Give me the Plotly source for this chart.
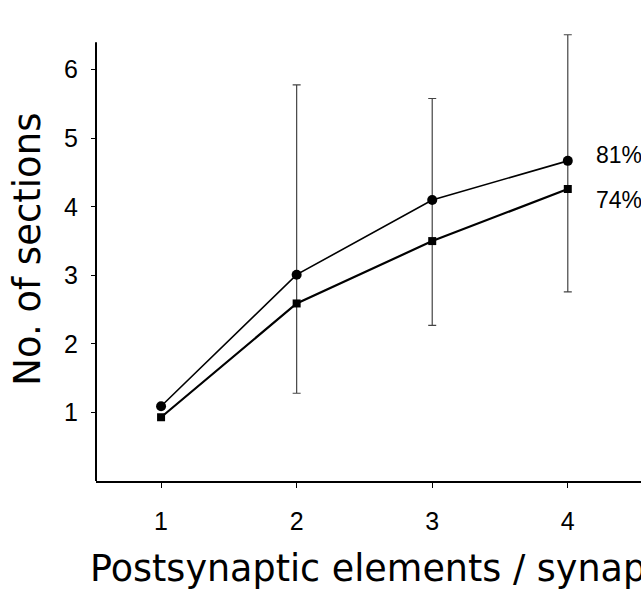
import plotly.graph_objects as go

x_vals = [1, 2, 3, 4]
circle_vals = [1.09, 3.01, 4.10, 4.67]
square_vals = [0.93, 2.59, 3.50, 4.26]
err_top = [None, 5.78, 5.58, 6.51]
err_bottom = [None, 1.28, 2.27, 2.76]
labels = ["81%", "74%"]
x_ticks = [1, 2, 3, 4]
y_ticks = [1, 2, 3, 4, 5, 6]
x_title = "Postsynaptic elements / synapse"
y_title = "No. of sections"
y_axis_top = 6.4

err_plus = [0 if t is None else t - c for t, c in zip(err_top, circle_vals)]
err_minus = [0 if b is None else c - b for b, c in zip(err_bottom, circle_vals)]

fig = go.Figure()

# error bar range (drawn first, behind lines)
fig.add_trace(go.Scatter(
    x=x_vals[1:], y=circle_vals[1:], mode="markers",
    marker=dict(size=1, color="rgba(0,0,0,0)"),
    error_y=dict(type="data", symmetric=False,
                 array=err_plus[1:], arrayminus=err_minus[1:],
                 color="#444444", thickness=1.2, width=4),
    showlegend=False, hoverinfo="skip"))

fig.add_trace(go.Scatter(
    x=x_vals, y=circle_vals, mode="lines+markers",
    line=dict(color="black", width=1.6),
    marker=dict(symbol="circle", size=10, color="black"),
    showlegend=False))

fig.add_trace(go.Scatter(
    x=x_vals, y=square_vals, mode="lines+markers",
    line=dict(color="black", width=2.2),
    marker=dict(symbol="square", size=8, color="black"),
    showlegend=False))

# y-axis line stopping at the reference's axis top
fig.add_shape(type="line", xref="paper", yref="y", x0=0, x1=0,
              y0=0, y1=y_axis_top, line=dict(color="black", width=2))

fig.add_annotation(x=x_vals[-1], y=circle_vals[-1], text=labels[0],
                   xref="x", yref="y", showarrow=False,
                   xanchor="left", yanchor="middle", xshift=26, yshift=6,
                   font=dict(family="Liberation Sans", size=23, color="black"))
fig.add_annotation(x=x_vals[-1], y=square_vals[-1], text=labels[1],
                   xref="x", yref="y", showarrow=False,
                   xanchor="left", yanchor="middle", xshift=26, yshift=-11,
                   font=dict(family="Liberation Sans", size=23, color="black"))

fig.add_annotation(x=-0.0147, y=-0.194, xref="paper", yref="paper",
                   text=x_title, showarrow=False,
                   xanchor="left", yanchor="middle",
                   font=dict(family="DejaVu Sans", size=36.5, color="black"))
fig.add_annotation(x=-0.125, y=0.517, xref="paper", yref="paper",
                   text=y_title, showarrow=False, textangle=-90,
                   xanchor="center", yanchor="middle",
                   font=dict(family="DejaVu Sans", size=37, color="black"))

fig.update_layout(
    width=641, height=591,
    margin=dict(l=96, r=0, t=32, b=110),
    paper_bgcolor="white", plot_bgcolor="white",
    showlegend=False,
)
fig.update_xaxes(range=[0.52, 4.54], tickvals=x_ticks,
                 ticks="outside", ticklen=5, tickwidth=1, tickcolor="black",
                 showline=True, linecolor="black", linewidth=2,
                 showgrid=False, zeroline=False,
                 ticklabelstandoff=12,
                 tickfont=dict(family="Liberation Sans", size=25, color="black"))
fig.update_yaxes(range=[0, 6.55], tickvals=y_ticks,
                 ticks="outside", ticklen=4, tickwidth=1, tickcolor="black",
                 showline=False,
                 showgrid=False, zeroline=False,
                 ticklabelstandoff=8,
                 tickfont=dict(family="Liberation Sans", size=25, color="black"))

fig.write_html("out.html")
